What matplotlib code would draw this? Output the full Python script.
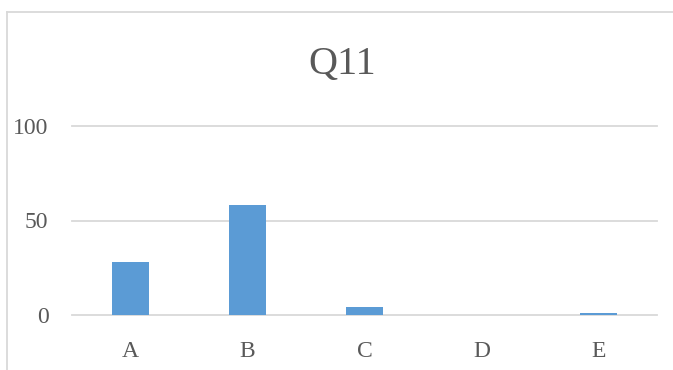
import matplotlib
matplotlib.use("Agg")
import matplotlib.pyplot as plt
from matplotlib.lines import Line2D

categories = ["A", "B", "C", "D", "E"]
counts = [28, 58, 4, 0, 1]
y_ticks = [0, 50, 100]

BAR_COLOR = "#5B9BD5"
GRID_COLOR = "#D9D9D9"
TEXT_COLOR = "#595959"

plt.rcParams["font.family"] = ["Liberation Serif", "DejaVu Serif"]

fig = plt.figure(figsize=(6.73, 3.70), dpi=100)
ax = fig.add_axes([72 / 673, 1 - 315 / 370, 585 / 673, 189 / 370])

x = range(len(categories))
ax.bar(x, counts, width=0.31, color=BAR_COLOR, zorder=3)

ax.set_xlim(-0.5, len(categories) - 0.5)
ax.set_ylim(0, 100)
ax.set_xticks(list(x))
ax.set_xticklabels(categories)
ax.set_yticks(y_ticks)

for val in y_ticks:
    ax.axhline(val, color=GRID_COLOR, linewidth=1.3, zorder=1, clip_on=False)

for spine in ax.spines.values():
    spine.set_visible(False)
ax.tick_params(axis="both", length=0, labelsize=17, labelcolor=TEXT_COLOR)
ax.tick_params(axis="y", pad=17)
ax.tick_params(axis="x", pad=19)

fig.text(342 / 673, 1 - 65 / 370, "Q11", ha="center", va="center",
         fontsize=29, color=TEXT_COLOR)

# chart frame (only left and top edges fall inside the canvas)
fig.add_artist(Line2D([6.5 / 673, 6.5 / 673], [0, 1 - 11.5 / 370],
                      transform=fig.transFigure, color=GRID_COLOR, linewidth=1.3))
fig.add_artist(Line2D([6.5 / 673, 1], [1 - 11.5 / 370, 1 - 11.5 / 370],
                      transform=fig.transFigure, color=GRID_COLOR, linewidth=1.3))

fig.savefig("out.png", dpi=100)
